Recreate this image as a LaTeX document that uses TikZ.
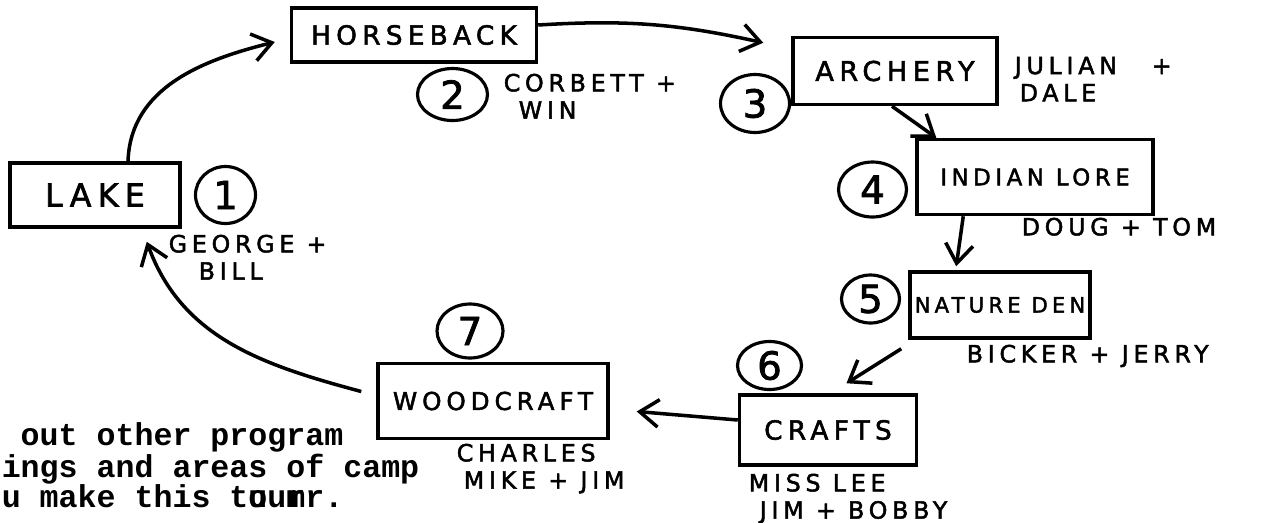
\documentclass[tikz,border=0pt]{standalone}
\usepackage{fontspec}
\newfontfamily\hand[LetterSpace=20,FakeBold=2]{DejaVu Sans}
\newfontfamily\handnum[FakeBold=2]{DejaVu Sans}
\newfontfamily\typer{Liberation Mono}
\usetikzlibrary{shapes}
\usetikzlibrary{positioning}
\usetikzlibrary{arrows.meta}
\tikzset{every node/.style={inner sep=0pt, outer sep=1pt}}
\tikzset{place/.style={rectangle,draw=black,line width=2pt,font=\hand\fontsize{#1}{#1}\selectfont}}
\tikzset{stopnum/.style={ellipse,draw=black,line width=1.8pt,font=\handnum\fontsize{22}{22}\selectfont}}
\tikzset{crew/.style={anchor=north west,align=left,font=\hand\fontsize{13.5}{15.5}\selectfont}}
\tikzset{walk/.style={line width=2pt,-{Straight Barb[length=3.8mm,width=5.5mm]}}}

\begin{document}
\begin{tikzpicture}[x=0.02cm,y=-0.02cm]
    \useasboundingbox (0,0) rectangle (1262,522);

    % places on the tour
    \node[place=18,minimum width=3.4cm,minimum height=1.28cm] (Lake) at (95,195) {LAKE};
    \node[place=15,minimum width=4.9cm,minimum height=1.08cm] (Horse) at (414,35) {HORSEBACK};
    \node[place=15.5,minimum width=4.08cm,minimum height=1.34cm] (Archery) at (895,71) {ARCHERY};
    \node[place=13,minimum width=4.72cm,minimum height=1.5cm] (Lore) at (1035,177) {INDIAN LORE};
    \node[place=12,minimum width=3.6cm,minimum height=1.32cm] (Nature) at (1000,305) {NATURE DEN};
    \node[place=15,minimum width=3.54cm,minimum height=1.4cm] (Crafts) at (828,430) {CRAFTS};
    \node[place=14,minimum width=4.6cm,minimum height=1.5cm] (Wood) at (493,401) {WOODCRAFT};

    % numbers
    \node[stopnum,minimum width=1.2cm,minimum height=1.14cm,right=0.24cm of Lake] (LakeCircle) {1};
    \node[stopnum,minimum width=1.4cm,minimum height=1.04cm,below=0.06cm of Horse,xshift=0.77cm] (HorseCircle) {2};
    \node[stopnum,minimum width=1.38cm,minimum height=1.16cm,left=0cm of Archery,yshift=-0.65cm] (ArcheryCircle) {3};
    \node[stopnum,minimum width=1.36cm,minimum height=1.1cm,left=0.14cm of Lore,yshift=-0.25cm] (LoreCircle) {4};
    \node[stopnum,minimum width=1.16cm,minimum height=0.96cm,left=0.14cm of Nature,yshift=0.12cm] (NatureCircle) {5};
    \node[stopnum,minimum width=1.28cm,minimum height=0.96cm,above=0.04cm of Crafts,xshift=-1.17cm] (CraftsCircle) {6};
    \node[stopnum,minimum width=1.32cm,minimum height=1.08cm,above=0.04cm of Wood,xshift=-0.46cm] (WoodCircle) {7};

    % counsellors
    \node[crew] (LakeCrew) at (167,233) {GEORGE +\\\hspace*{0.6cm}BILL};
    \node[crew] (HorseCrew) at (502,72) {CORBETT +\\\hspace*{0.3cm}WIN};
    \node[crew] (ArcheryCrew) at (1013,55) {JULIAN \hspace{0.45cm}+\\\hspace*{0.1cm}DALE};
    \node[crew] (LoreCrew) at (1020,216) {DOUG + TOM};
    \node[crew] (NatureCrew) at (965,343) {BICKER + JERRY};
    \node[crew] (CraftsCrew) at (747,472) {MISS LEE\\\hspace*{0.22cm}JIM + BOBBY};
    \node[crew] (WoodCrew) at (455,442) {CHARLES\\\hspace*{0.14cm}MIKE + JIM};

    \draw[walk] ([xshift=0.66cm]Lake.north) to[out=88,in=194] ([xshift=-0.3cm,yshift=-0.14cm]Horse.west);
    \draw[walk] ([yshift=0.2cm]Horse.east) to[bend left=8] ([xshift=-0.56cm,yshift=-0.14cm]Archery.north west);
    \draw[walk] ([xshift=-0.06cm]Archery.south) -- ([xshift=0.42cm]Lore.north west);
    \draw[walk] ([xshift=0.96cm]Lore.south west) -- ([xshift=0.96cm,yshift=0.08cm]Nature.north west);
    \draw[walk] ([xshift=-0.14cm,yshift=-0.18cm]Nature.south west) -- ([xshift=0.37cm,yshift=0.2cm]Crafts.north);
    \draw[walk] ([yshift=0.2cm]Crafts.west) -- ([xshift=0.54cm,yshift=-0.21cm]Wood.east);
    \draw[walk] ([xshift=-0.3cm,yshift=0.19cm]Wood.west) to[out=165,in=-70] ([xshift=-0.7cm,yshift=-0.26cm]Lake.south east);

    % typed text
    \node[anchor=north west,align=left,font=\typer\bfseries\fontsize{18}{17}\selectfont] (Note) at (0,421) {\hphantom{x}out other program\\ings and areas of camp\\u make this t\rlap{o}uu\rlap{m}rr.};

\end{tikzpicture}
\end{document}
